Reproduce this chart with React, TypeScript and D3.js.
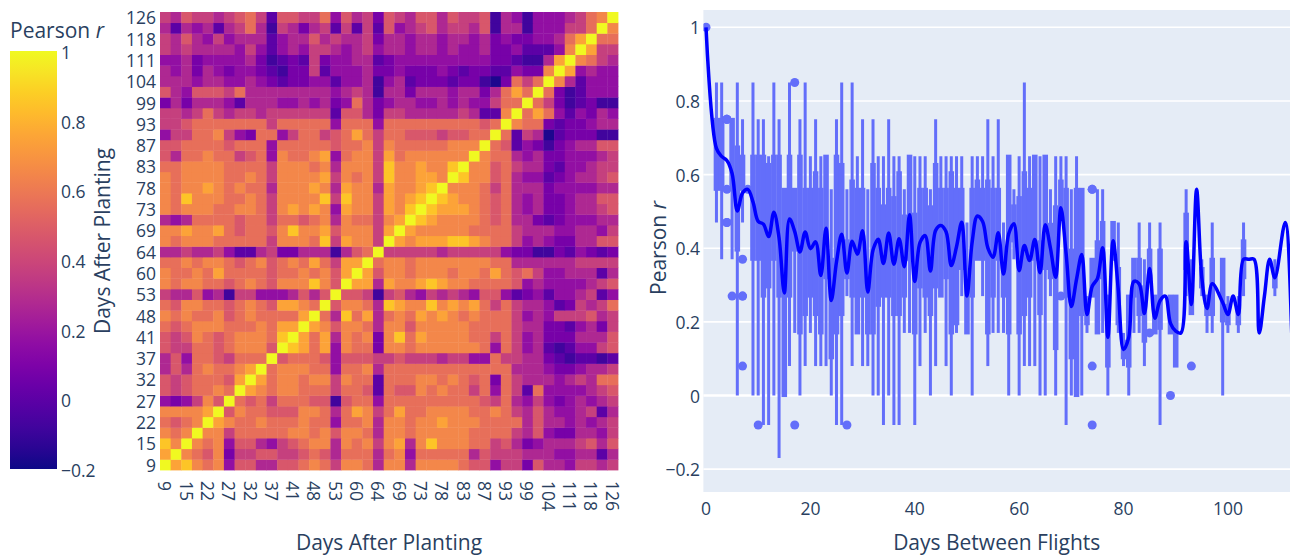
import React, { useEffect, useRef } from 'react';
import * as d3 from 'd3';

// flight dates, days after planting (every other one is labelled)
const days = [9, 11, 15, 18, 22, 25, 27, 29, 32, 34, 37, 39, 41, 44, 48, 50, 53, 57, 60, 62, 64, 67, 69, 71, 73, 76, 78, 80, 83, 85, 87, 90, 93, 96, 99, 101, 104, 108, 111, 114, 118, 124, 126];

// colour classes, from darkest ('0') to the diagonal ('c')
const corrKey = '0123456789abc';
const corrLevels = [-0.17, -0.08, 0, 0.08, 0.17, 0.27, 0.37, 0.47, 0.56, 0.65, 0.75, 0.85, 1];

// lower triangle of the correlation matrix: row i holds columns 0..i-1
const corrRows = [
  '',
  'a',
  'b9',
  '989',
  '8789',
  '9999a',
  '434697',
  '7678898',
  '7678887a',
  '57589889a',
  '5748876888',
  '76688789997',
  '76798789998b',
  '87899988898aa',
  '9898897898888a',
  '87998878987aa98',
  '6557451664445757',
  '98998878987999b97',
  '98898a88887889897a',
  '88989987897898a86aa',
  '55655642256335551578',
  '989998888869998b6a996',
  '99a99a878879b99a79996a',
  '5458888788688789598869a',
  '989998899869a9a94a996a9b',
  '98b999889869999b6b996a9ab',
  '9899a989885999a95a995a99ab',
  '989999889869999a69896b99aa9',
  '889999888869998959996b99a99b',
  '758898867849889a48996a8999999',
  '778888788848888878896988888999',
  '466889643884688678a868877767788',
  '66788888886888884888488888888878',
  '665686566566666627753665555565229',
  '3535554255544545348534554454544688',
  '754777685555555545651553555455358a8',
  '555455445432334424451452333233103868',
  '5453543443213362444533433343233224339',
  '4453444453123263445523444444444332115a',
  '656555546424546654564554554544533422249',
  '657546455524557565563554554554534334458a',
  '52545256851653562626274567566571551444668',
  '657665678627766847563765775766715414445689',
];

const colorbarTicks = [1, 0.8, 0.6, 0.4, 0.2, 0, -0.2];
const pearsonTicks = [-0.2, 0, 0.2, 0.4, 0.6, 0.8, 1];
const gapTicks = [0, 20, 40, 60, 80, 100];

const FONT = '"Open Sans", verdana, arial, sans-serif';
const INK = '#2a3f5f';
const BOX = '#636efa';
const fmt = (v: number) => (v < 0 ? '\u2212' + Math.abs(v) : String(v));

const valueAt = (i: number, j: number) => {
  if (i === j) return 1;
  const a = Math.max(i, j);
  const b = Math.min(i, j);
  return corrLevels[corrKey.indexOf(corrRows[a][b])];
};

const App = () => {
  const svgRef = useRef<SVGSVGElement>(null);

  useEffect(() => {
    if (!svgRef.current) return;
    const svg = d3.select(svgRef.current);
    svg.selectAll('*').remove();

    const n = days.length;
    const idx = d3.range(n);
    const color = d3.scaleSequential(d3.interpolatePlasma).domain([-0.2, 1]);

    // ---------- heatmap ----------
    const hx = d3.scaleBand<number>().domain(idx).range([160, 618]);
    const hy = d3.scaleBand<number>().domain(idx).range([470, 12]);
    const bw = hx.bandwidth();

    const cells: { i: number; j: number; v: number }[] = [];
    idx.forEach(i => idx.forEach(j => cells.push({ i, j, v: valueAt(i, j) })));

    svg.append('g')
      .selectAll('rect')
      .data(cells)
      .join('rect')
      .attr('x', d => hx(d.j)!)
      .attr('y', d => hy(d.i)!)
      .attr('width', bw + 0.4)
      .attr('height', bw + 0.4)
      .attr('fill', d => color(d.v));

    const labelled = idx.filter(i => i % 2 === 0);

    svg.append('g')
      .selectAll('text')
      .data(labelled)
      .join('text')
      .attr('x', 156)
      .attr('y', i => hy(i)! + bw / 2)
      .attr('text-anchor', 'end')
      .attr('dominant-baseline', 'central')
      .style('font-family', FONT)
      .style('font-size', '17.5px')
      .style('fill', INK)
      .text(i => days[i]);

    svg.append('g')
      .selectAll('text')
      .data(labelled)
      .join('text')
      .attr('transform', i => `translate(${hx(i)! + bw / 2},481) rotate(90)`)
      .attr('text-anchor', 'start')
      .attr('dominant-baseline', 'central')
      .style('font-family', FONT)
      .style('font-size', '17.5px')
      .style('fill', INK)
      .text(i => days[i]);

    svg.append('text')
      .attr('x', 389)
      .attr('y', 550)
      .attr('text-anchor', 'middle')
      .style('font-family', FONT)
      .style('font-size', '21px')
      .style('fill', INK)
      .text('Days After Planting');

    svg.append('text')
      .attr('transform', 'translate(102,241) rotate(-90)')
      .attr('text-anchor', 'middle')
      .attr('dominant-baseline', 'central')
      .style('font-family', FONT)
      .style('font-size', '21px')
      .style('fill', INK)
      .text('Days After Planting');

    // ---------- colorbar ----------
    const grad = svg.append('defs')
      .append('linearGradient')
      .attr('id', 'plasma')
      .attr('x1', 0).attr('y1', 1).attr('x2', 0).attr('y2', 0);
    d3.range(0, 1.0001, 0.05).forEach(t => {
      grad.append('stop').attr('offset', t).attr('stop-color', d3.interpolatePlasma(t));
    });

    const cy = d3.scaleLinear().domain([-0.2, 1]).range([469, 51]);
    svg.append('rect')
      .attr('x', 10)
      .attr('y', cy(1))
      .attr('width', 47)
      .attr('height', cy(-0.2) - cy(1))
      .attr('fill', 'url(#plasma)');

    svg.append('g')
      .selectAll('text')
      .data(colorbarTicks)
      .join('text')
      .attr('x', 61)
      .attr('y', d => cy(d) + 1)
      .attr('dominant-baseline', 'central')
      .style('font-family', FONT)
      .style('font-size', '17.5px')
      .style('fill', INK)
      .text(d => fmt(d));

    const cbTitle = svg.append('text')
      .attr('x', 10)
      .attr('y', 38)
      .style('font-family', FONT)
      .style('font-size', '21px')
      .style('fill', INK);
    cbTitle.append('tspan').text('Pearson ');
    cbTitle.append('tspan').style('font-style', 'italic').text('r');

    // ---------- box plot of r against days between flights ----------
    const px = d3.scaleLinear().domain([-0.5, 111.9]).range([703.4, 1290]);
    const py = d3.scaleLinear().domain([-0.262, 1.047]).range([492, 10]);

    const pairs: { gap: number; r: number }[] = [];
    idx.forEach(i => idx.forEach(j => {
      if (j >= i) pairs.push({ gap: days[j] - days[i], r: valueAt(i, j) });
    }));

    const stats = d3.groups(pairs, d => d.gap)
      .sort((a, b) => a[0] - b[0])
      .map(([gap, list]) => {
        const vals = list.map(d => d.r).sort(d3.ascending);
        const q1 = d3.quantileSorted(vals, 0.25)!;
        const med = d3.quantileSorted(vals, 0.5)!;
        const q3 = d3.quantileSorted(vals, 0.75)!;
        const iqr = q3 - q1;
        const lo = q1 - 1.5 * iqr;
        const hi = q3 + 1.5 * iqr;
        const inside = vals.filter(v => v >= lo && v <= hi);
        return {
          gap, q1, med, q3,
          wLo: d3.min(inside)!, wHi: d3.max(inside)!,
          out: vals.filter(v => v < lo || v > hi),
          mean: d3.mean(vals)!,
          flat: vals.length > 1 && d3.min(vals) === d3.max(vals),
        };
      });

    svg.append('defs')
      .append('clipPath')
      .attr('id', 'plotclip')
      .append('rect')
      .attr('x', 703.4).attr('y', 10).attr('width', 1290 - 703.4).attr('height', 482);

    svg.append('rect')
      .attr('x', 703.4)
      .attr('y', 10)
      .attr('width', 1290 - 703.4)
      .attr('height', 482)
      .attr('fill', '#e5ecf6');

    svg.append('g')
      .selectAll('line')
      .data(pearsonTicks)
      .join('line')
      .attr('x1', 703.4)
      .attr('x2', 1290)
      .attr('y1', d => py(d))
      .attr('y2', d => py(d))
      .attr('stroke', '#fff')
      .attr('stroke-width', d => (d === 0 ? 2.5 : 1.6));

    const plot = svg.append('g').attr('clip-path', 'url(#plotclip)');
    const half = px(0.245) - px(0);

    const boxes = plot.selectAll('g.box')
      .data(stats.filter(s => !s.flat))
      .join('g')
      .attr('class', 'box');

    boxes.append('line')
      .attr('x1', d => px(d.gap)).attr('x2', d => px(d.gap))
      .attr('y1', d => py(d.wLo)).attr('y2', d => py(d.wHi))
      .attr('stroke', BOX)
      .attr('stroke-width', 3);

    boxes.append('rect')
      .attr('x', d => px(d.gap) - half)
      .attr('y', d => py(d.q3))
      .attr('width', half * 2)
      .attr('height', d => Math.max(0, py(d.q1) - py(d.q3)))
      .attr('fill', 'rgba(99,110,250,0.5)')
      .attr('stroke', BOX)
      .attr('stroke-width', 3);

    boxes.selectAll('circle')
      .data(d => d.out.map(v => ({ gap: d.gap, v })))
      .join('circle')
      .attr('cx', d => px(d.gap))
      .attr('cy', d => py(d.v))
      .attr('r', 4.5)
      .attr('fill', BOX);

    plot.selectAll('circle.flat')
      .data(stats.filter(s => s.flat))
      .join('circle')
      .attr('class', 'flat')
      .attr('cx', d => px(d.gap))
      .attr('cy', d => py(d.med))
      .attr('r', 4.5)
      .attr('fill', BOX);

    const meanLine = d3.line<{ gap: number; mean: number }>()
      .x(d => px(d.gap))
      .y(d => py(d.mean))
      .curve(d3.curveCatmullRom.alpha(0.5));

    plot.append('path')
      .datum(stats)
      .attr('d', meanLine)
      .attr('fill', 'none')
      .attr('stroke', '#0000ff')
      .attr('stroke-width', 3.5);

    svg.append('g')
      .selectAll('text')
      .data(pearsonTicks)
      .join('text')
      .attr('x', 700)
      .attr('y', d => py(d))
      .attr('text-anchor', 'end')
      .attr('dominant-baseline', 'central')
      .style('font-family', FONT)
      .style('font-size', '17.5px')
      .style('fill', INK)
      .text(d => fmt(d));

    svg.append('g')
      .selectAll('text')
      .data(gapTicks)
      .join('text')
      .attr('x', d => px(d))
      .attr('y', 508)
      .attr('text-anchor', 'middle')
      .attr('dominant-baseline', 'central')
      .style('font-family', FONT)
      .style('font-size', '17.5px')
      .style('fill', INK)
      .text(d => d);

    svg.append('text')
      .attr('x', (703.4 + 1290) / 2)
      .attr('y', 550)
      .attr('text-anchor', 'middle')
      .style('font-family', FONT)
      .style('font-size', '21px')
      .style('fill', INK)
      .text('Days Between Flights');

    const yTitle = svg.append('text')
      .attr('transform', 'translate(658,248) rotate(-90)')
      .attr('text-anchor', 'middle')
      .attr('dominant-baseline', 'central')
      .style('font-family', FONT)
      .style('font-size', '21px')
      .style('fill', INK);
    yTitle.append('tspan').text('Pearson ');
    yTitle.append('tspan').style('font-style', 'italic').text('r');
  }, []);

  return (
    <svg
      ref={svgRef}
      width={1290}
      height={555}
      style={{ position: 'absolute', left: 0, top: 0, background: '#fff' }}
    />
  );
};

export default App;
